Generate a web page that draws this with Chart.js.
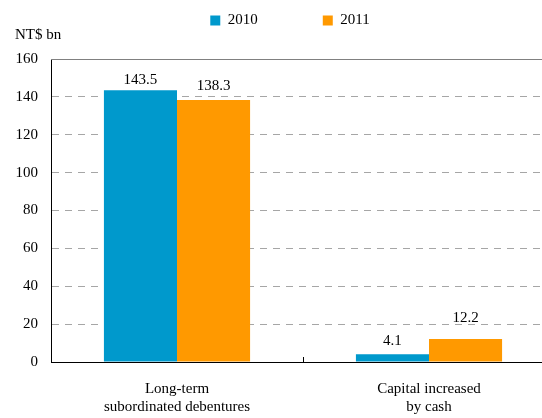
<!DOCTYPE html>
<html lang="en">
<head>
  <meta charset="UTF-8" />
  <title>Subordinated debentures and cash capital</title>
  <script src="https://cdn.jsdelivr.net/npm/chart.js"></script>
  <style>
    html, body { margin: 0; padding: 0; background: #fff; overflow: hidden; }
    /* plot runs past the right edge of the picture, as in the source */
    #wrap { width: 555px; height: 418px; }
  </style>
</head>
<body>
  <div id="wrap"><canvas id="chart"></canvas></div>

  <script>
    // data
    const categories = [['Long-term', 'subordinated debentures'], ['Capital increased', 'by cash']];
    const series2010 = [143.5, 4.1];
    const series2011 = [138.3, 12.2];
    const seriesNames = ['2010', '2011'];
    const yTicks = [0, 20, 40, 60, 80, 100, 120, 140, 160];

    const FONT = 'Liberation Serif, Times New Roman, serif';
    // extra lift (px) of each value label, the source placed some by hand
    const labelLift = [[0, 3], [3.5, 10.5]];

    // value labels, unit title, top frame line and category divider tick
    const extras = {
      id: 'extras',
      afterLayout(chart) {
        // nudge legend a little right, like the source
        chart.legend.left += 5;
        chart.legend.right += 5;
      },
      afterDatasetsDraw(chart) {
        const ctx = chart.ctx;
        const area = chart.chartArea;
        ctx.save();
        ctx.fillStyle = '#000';
        ctx.font = '15px ' + FONT;
        ctx.textAlign = 'center';
        ctx.textBaseline = 'alphabetic';
        chart.data.datasets.forEach((ds, i) => {
          chart.getDatasetMeta(i).data.forEach((bar, j) => {
            ctx.fillText(ds.data[j].toFixed(1), bar.x, bar.y - 6.5 - labelLift[i][j]);
          });
        });

        ctx.textAlign = 'left';
        ctx.fillText('NT$ bn', 15, 39);

        ctx.strokeStyle = '#808080';
        ctx.lineWidth = 1;
        ctx.beginPath();
        ctx.moveTo(area.left, Math.round(area.top) + 0.5);
        ctx.lineTo(area.right, Math.round(area.top) + 0.5);
        ctx.stroke();

        const x = chart.scales.x;
        const mid = Math.round((x.getPixelForValue(0) + x.getPixelForValue(1)) / 2) + 0.5;
        ctx.strokeStyle = '#000';
        ctx.beginPath();
        ctx.moveTo(mid, area.bottom);
        ctx.lineTo(mid, area.bottom - 5);
        ctx.stroke();
        ctx.restore();
      }
    };

    new Chart(document.getElementById('chart'), {
      type: 'bar',
      data: {
        labels: categories,
        datasets: [
          { label: seriesNames[0], data: series2010, backgroundColor: '#0099CC' },
          { label: seriesNames[1], data: series2011, backgroundColor: '#FF9900' }
        ]
      },
      options: {
        responsive: true,
        maintainAspectRatio: false,
        animation: false,
        categoryPercentage: 0.58,
        barPercentage: 1,
        layout: { padding: { top: -52, right: 0, left: 15, bottom: 0 } },
        plugins: {
          tooltip: { enabled: false },
          legend: {
            position: 'top',
            labels: {
              color: '#000',
              font: { family: FONT, size: 15 },
              boxWidth: 10,
              boxHeight: 10,
              padding: 65
            }
          },
          // empty spacer between legend and plot
          title: {
            display: true,
            text: '',
            weight: 500,
            padding: 0,
            font: { size: 21, lineHeight: 1 }
          }
        },
        scales: {
          x: {
            grid: { display: false },
            border: { display: true, color: '#000', width: 1 },
            ticks: {
              color: '#000',
              font: { family: FONT, size: 15, lineHeight: 1.2 },
              padding: 10,
              maxRotation: 0
            },
            afterFit: s => { s.height = 56; }
          },
          y: {
            min: 0,
            max: 160,
            afterBuildTicks: s => { s.ticks = yTicks.map(v => ({ value: v })); },
            grid: {
              drawTicks: false,
              color: c => (c.tick.value === 0 || c.tick.value === 160) ? 'rgba(0,0,0,0)' : '#a6a6a6',
              lineWidth: 1
            },
            border: { display: true, color: '#000', width: 1, dash: [7, 6] },
            ticks: {
              color: '#000',
              font: { family: FONT, size: 15 },
              padding: 13
            },
            afterFit: s => { s.width = 36; }
          }
        }
      },
      plugins: [extras]
    });
  </script>
</body>
</html>
